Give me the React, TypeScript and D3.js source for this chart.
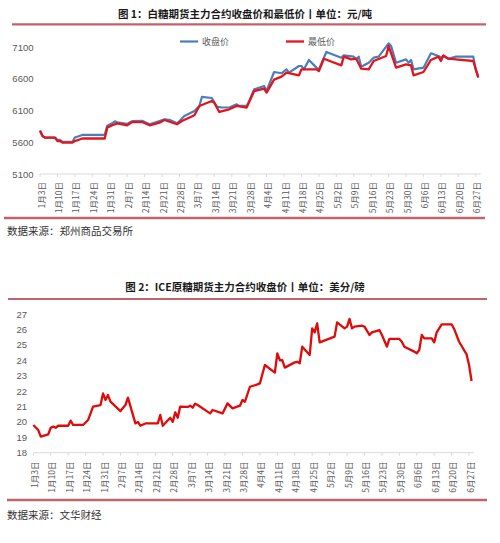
import React from "react";
import * as d3 from "d3";

const YEAR = 2023;

const title1 = "图 1：白糖期货主力合约收盘价和最低价丨单位：元/吨";
const title2 = "图 2：ICE原糖期货主力合约收盘价丨单位：美分/磅";
const source1 = "数据来源：郑州商品交易所";
const source2 = "数据来源：文华财经";
const seriesNames = ["收盘价", "最低价"];

const yTicks1 = [5100, 5600, 6100, 6600, 7100];
const yTicks2 = [18, 19, 20, 21, 22, 23, 24, 25, 26, 27];

const closeDates = ["01-03","01-04","01-05","01-09","01-10","01-11","01-12","01-16","01-17","01-20","01-29","01-30","02-01","02-02","02-03","02-07","02-09","02-13","02-16","02-20","02-22","02-24","02-27","02-28","03-02","03-06","03-08","03-09","03-13","03-15","03-17","03-20","03-23","03-24","03-27","03-28","03-30","04-03","04-04","04-07","04-10","04-12","04-13","04-17","04-18","04-19","04-21","04-24","04-25","04-28","05-04","05-05","05-09","05-10","05-11","05-12","05-15","05-17","05-19","05-23","05-24","05-26","05-30","05-31","06-01","06-02","06-06","06-09","06-12","06-13","06-14","06-16","06-19","06-26","06-27","06-28"];
const closeValues = [5790,5700,5675,5675,5640,5638,5606,5606,5675,5717,5717,5860,5900,5932,5915,5890,5935,5940,5885,5937,5964,5955,5900,5937,6016,6095,6174,6316,6300,6163,6150,6150,6200,6175,6175,6253,6437,6490,6410,6710,6690,6752,6700,6805,6805,6752,6900,6779,6752,7026,6936,6973,6952,6910,6952,6794,6857,6936,6952,7162,7120,6857,6910,6857,6900,6752,6779,7005,6963,6936,6963,6920,6952,6952,6752,6637];

const lowDates = ["01-03","01-04","01-05","01-09","01-10","01-11","01-12","01-16","01-17","01-20","01-29","01-30","02-01","02-03","02-07","02-09","02-13","02-16","02-20","02-22","02-27","03-01","03-06","03-08","03-13","03-14","03-16","03-20","03-23","03-27","03-30","04-03","04-04","04-07","04-10","04-12","04-17","04-18","04-24","04-25","04-27","05-04","05-05","05-08","05-10","05-12","05-15","05-17","05-22","05-23","05-26","05-30","06-01","06-02","06-06","06-09","06-12","06-13","06-14","06-16","06-19","06-26","06-27","06-28"];
const lowValues = [5780,5700,5675,5675,5620,5620,5596,5596,5620,5660,5660,5832,5869,5900,5869,5920,5920,5869,5910,5952,5885,5937,6027,6174,6253,6226,6079,6121,6174,6148,6410,6448,6385,6590,6637,6700,6658,6752,6752,6726,6920,6815,6952,6910,6920,6763,6752,6884,6963,7120,6779,6831,6815,6658,6710,6900,6952,6884,6973,6920,6910,6884,6752,6621];

const iceDates = ["01-03","01-05","01-06","01-09","01-10","01-11","01-12","01-13","01-17","01-18","01-19","01-23","01-25","01-27","01-30","01-31","02-01","02-02","02-03","02-07","02-09","02-10","02-13","02-14","02-15","02-17","02-22","02-23","02-24","02-27","02-28","03-01","03-02","03-03","03-06","03-07","03-08","03-09","03-10","03-15","03-16","03-20","03-22","03-24","03-27","03-28","03-29","03-31","04-03","04-04","04-06","04-10","04-11","04-12","04-13","04-14","04-18","04-19","04-20","04-21","04-24","04-25","04-26","04-27","04-28","05-04","05-05","05-08","05-09","05-10","05-11","05-12","05-15","05-16","05-18","05-19","05-22","05-23","05-25","05-26","05-30","05-31","06-01","06-05","06-06","06-07","06-08","06-09","06-12","06-13","06-14","06-16","06-20","06-21","06-23","06-26","06-27","06-28"];
const iceValues = [19.80,19.47,19.04,19.19,19.62,19.69,19.62,19.75,19.75,20.08,19.80,19.80,20.12,20.99,21.09,21.85,21.42,21.74,21.31,20.70,21.09,21.57,19.90,20.00,19.75,19.90,19.90,20.45,19.75,20.27,20.00,20.62,20.27,20.99,20.97,21.05,20.92,21.18,21.09,20.55,20.77,20.55,21.20,20.88,21.05,21.42,21.31,22.28,22.43,22.50,23.69,23.20,24.45,24.00,24.00,23.52,23.86,23.90,23.80,24.88,24.34,26.07,25.81,26.39,25.16,25.53,26.46,26.07,26.18,26.68,26.07,26.18,26.24,26.18,25.64,25.81,25.96,25.64,24.88,25.38,25.38,25.20,24.88,24.56,24.45,24.66,25.64,25.42,25.42,25.16,25.81,26.33,26.33,26.03,25.20,24.38,23.69,22.65];

const parse = (s: string) => new Date(YEAR, +s.slice(0, 2) - 1, +s.slice(3, 5));

const CJK = "'Noto Sans CJK SC', 'Noto Sans', sans-serif";
const NUM = "'Liberation Sans', Arial, sans-serif";
const RULE = "#c0636b";
const AXIS = "#d9d9d9";
const LABEL = "#595959";
const BLUE = "#4a7ebb";
const RED1 = "#e3141c";
const RED2 = "#e00a0a";

const start = parse("01-03");
const end = parse("06-29");
const tickDates = d3.timeTuesday.range(start, d3.timeDay.offset(parse("06-27"), 1));
const fmt = (d: Date) => `${d.getMonth() + 1}月${d.getDate()}日`;

function XAxis({ x, y, labelY }: { x: d3.ScaleTime<number, number>; y: number; labelY: number }) {
  const [r0, r1] = x.range();
  return (
    <g>
      <line x1={r0} x2={r1} y1={y} y2={y} stroke={AXIS} strokeWidth={1} />
      {tickDates.map((d, i) => (
        <g key={i}>
          <line x1={x(d)} x2={x(d)} y1={y} y2={y + 3} stroke={AXIS} strokeWidth={1} />
          <text
            transform={`translate(${x(d) + 0.5},${labelY}) rotate(-90)`}
            textAnchor="end"
            dominantBaseline="central"
            fontFamily={CJK}
            fontSize={8.5}
            fill={LABEL}
          >
            {fmt(d)}
          </text>
        </g>
      ))}
    </g>
  );
}

export default function App() {
  // Chart 1
  const x1 = d3.scaleTime().domain([start, end]).range([40, 40 + (178 / 7) * 17.333]);
  const y1 = d3.scaleLinear().domain([5100, 7100]).range([174, 47.3]);
  const line1 = d3
    .line<[Date, number]>()
    .x((d) => x1(d[0]))
    .y((d) => y1(d[1]));
  const closeData: [Date, number][] = closeDates.map((d, i) => [parse(d), closeValues[i]]);
  const lowData: [Date, number][] = lowDates.map((d, i) => [parse(d), lowValues[i]]);

  // Chart 2
  const x2 = d3.scaleTime().domain([start, end]).range([33.3, 33.3 + (178 / 7) * 17.333]);
  const y2 = d3.scaleLinear().domain([18, 27]).range([452.7, 314]);
  const line2 = d3
    .line<[Date, number]>()
    .x((d) => x2(d[0]))
    .y((d) => y2(d[1]));
  const iceData: [Date, number][] = iceDates.map((d, i) => [parse(d), iceValues[i]]);

  return (
    <svg
      width={500}
      height={543}
      style={{ position: "absolute", left: 0, top: 0, background: "#fff" }}
    >
      <rect width={500} height={543} fill="#fff" />
      {/* Chart 1 */}
      <text x={245} y={13} textAnchor="middle" dominantBaseline="central" fontFamily={CJK} fontWeight={700} fontSize={10.5} fill="#1a1a1a">
        {title1}
      </text>
      <line x1={12} x2={486} y1={24.3} y2={24.3} stroke={RULE} strokeWidth={2.2} />

      {yTicks1.map((t) => (
        <text key={t} x={33.5} y={y1(t)} textAnchor="end" dominantBaseline="central" fontFamily={NUM} fontSize={9.5} fill={LABEL}>
          {t}
        </text>
      ))}
      <XAxis x={x1} y={174} labelY={182} />
      <path d={line1(closeData) || ""} fill="none" stroke={BLUE} strokeWidth={2.2} strokeLinejoin="round" />
      <path d={line1(lowData) || ""} fill="none" stroke={RED1} strokeWidth={2.3} strokeLinejoin="round" />

      {/* legend */}
      <line x1={180} x2={198} y1={41.5} y2={41.5} stroke={BLUE} strokeWidth={2.2} />
      <text x={202} y={41.5} dominantBaseline="central" fontFamily={CJK} fontSize={9} fill={LABEL}>
        {seriesNames[0]}
      </text>
      <line x1={286} x2={304} y1={41.5} y2={41.5} stroke={RED1} strokeWidth={2.3} />
      <text x={308} y={41.5} dominantBaseline="central" fontFamily={CJK} fontSize={9} fill={LABEL}>
        {seriesNames[1]}
      </text>

      <line x1={4} x2={485} y1={218} y2={218} stroke={RULE} strokeWidth={2.5} />
      <text x={7} y={230} dominantBaseline="central" fontFamily={CJK} fontSize={10.5} fill="#333">
        {source1}
      </text>

      {/* Chart 2 */}
      <text x={245} y={286.5} textAnchor="middle" dominantBaseline="central" fontFamily={CJK} fontWeight={700} fontSize={10.5} fill="#1a1a1a">
        {title2}
      </text>
      <line x1={8} x2={487} y1={299} y2={299} stroke={RULE} strokeWidth={2.2} />

      {yTicks2.map((t) => (
        <text key={t} x={27} y={y2(t)} textAnchor="end" dominantBaseline="central" fontFamily={NUM} fontSize={9.5} fill={LABEL}>
          {t}
        </text>
      ))}
      <XAxis x={x2} y={452.7} labelY={461.5} />
      <path d={line2(iceData) || ""} fill="none" stroke={RED2} strokeWidth={2.3} strokeLinejoin="round" />

      <line x1={7} x2={487} y1={500} y2={500} stroke={RULE} strokeWidth={2.5} />
      <text x={7} y={514} dominantBaseline="central" fontFamily={CJK} fontSize={10.5} fill="#333">
        {source2}
      </text>
    </svg>
  );
}
